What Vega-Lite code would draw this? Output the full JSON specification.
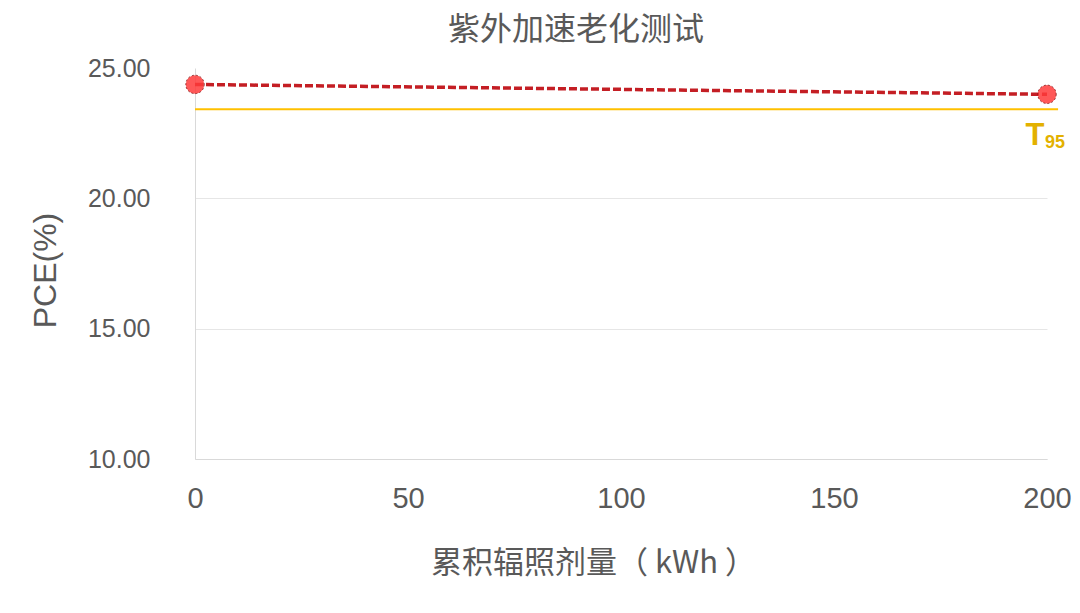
{
  "$schema": "https://vega.github.io/schema/vega-lite/v6.json",
  "autosize": {"type": "none"},
  "width": 852,
  "height": 391,
  "padding": {"left": 195, "top": 68, "right": 33, "bottom": 154},
  "background": "white",
  "config": {
    "view": {"stroke": null},
    "font": "Liberation Sans, Noto Sans CJK SC",
    "axis": {"labelFont": "Liberation Sans, Noto Sans CJK SC", "titleFont": "Liberation Sans, Noto Sans CJK SC"}
  },
  "title": {
    "text": "紫外加速老化测试",
    "font": "Noto Sans CJK SC",
    "fontSize": 32,
    "fontWeight": "normal",
    "color": "#595959",
    "anchor": "middle",
    "dx": -45,
    "offset": 9
  },
  "datasets": {
    "pce": [
      {"dose": 0, "pce": 24.37},
      {"dose": 200, "pce": 23.99}
    ],
    "t95": [
      {"dose": 0, "dose2": 202.6, "pce": 23.42, "t": "T", "sub": "95"}
    ]
  },
  "layer": [
    {
      "data": {"name": "t95"},
      "mark": {"type": "rule", "color": "#FFC000", "strokeWidth": 2, "clip": false},
      "encoding": {
        "x": {"field": "dose", "type": "quantitative", "scale": {"domain": [0, 200], "nice": false},
          "axis": {
            "values": [0, 50, 100, 150, 200],
            "grid": false,
            "ticks": false,
            "domain": true,
            "domainColor": "#D9D9D9",
            "labelFontSize": 29,
            "labelColor": "#595959",
            "labelPadding": 25,
            "labelFlush": false,
            "title": "累积辐照剂量（ kWh ）",
            "titleFont": "Noto Sans CJK SC",
            "titleFontSize": 31,
            "titleFontWeight": "normal",
            "titleColor": "#595959",
            "titleX": 398,
            "titleY": 113,
            "titleBaseline": "alphabetic"
          }
        },
        "x2": {"field": "dose2"},
        "y": {"field": "pce", "type": "quantitative", "scale": {"domain": [10, 25], "nice": false, "zero": false},
          "axis": {
            "values": [10, 15, 20, 25],
            "format": ".2f",
            "grid": true,
            "gridColor": "#E6E6E6",
            "gridOpacity": {"condition": {"test": "datum.value == 25", "value": 0}, "value": 1},
            "ticks": false,
            "domain": true,
            "domainColor": "#D9D9D9",
            "labelFontSize": 25,
            "labelColor": "#595959",
            "labelPadding": 45,
            "title": "PCE(%)",
            "titleFontSize": 32,
            "titleFontWeight": "normal",
            "titleColor": "#595959",
            "titleAngle": -90,
            "titleX": -150,
            "titleY": 202,
            "titleAlign": "center",
            "titleBaseline": "middle"
          }
        }
      }
    },
    {
      "data": {"name": "pce"},
      "mark": {"type": "line", "color": "#C41E24", "strokeWidth": 3.5, "strokeDash": [8, 3], "clip": false},
      "encoding": {
        "x": {"field": "dose", "type": "quantitative"},
        "y": {"field": "pce", "type": "quantitative"}
      }
    },
    {
      "data": {"name": "pce"},
      "mark": {"type": "point", "shape": "circle", "filled": true, "fill": "#FF3B3B", "fillOpacity": 0.85, "stroke": "#7A1010", "strokeWidth": 1, "strokeDash": [2, 2], "strokeOpacity": 0.8, "size": 340, "clip": false},
      "encoding": {
        "x": {"field": "dose", "type": "quantitative"},
        "y": {"field": "pce", "type": "quantitative"}
      }
    },
    {
      "data": {"name": "t95"},
      "mark": {"type": "text", "color": "#E3B100", "fontWeight": "bold", "fontSize": 31, "font": "Liberation Sans Narrow, Liberation Sans", "align": "center", "baseline": "alphabetic", "dx": -12, "dy": 36, "clip": false},
      "encoding": {
        "x": {"datum": 200, "type": "quantitative"},
        "y": {"field": "pce", "type": "quantitative"},
        "text": {"field": "t"}
      }
    },
    {
      "data": {"name": "t95"},
      "mark": {"type": "text", "color": "#E3B100", "fontWeight": "bold", "fontSize": 18, "font": "Liberation Sans", "align": "left", "baseline": "alphabetic", "dx": -2, "dy": 39, "clip": false},
      "encoding": {
        "x": {"datum": 200, "type": "quantitative"},
        "y": {"field": "pce", "type": "quantitative"},
        "text": {"field": "sub"}
      }
    }
  ]
}
